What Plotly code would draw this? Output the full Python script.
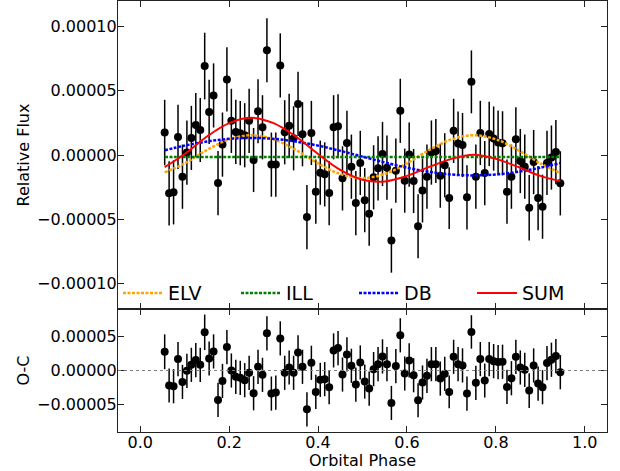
import plotly.graph_objects as go
from plotly.subplots import make_subplots

SCALE = 1e-5  # values below are in units of 1e-5

phase = [0.055, 0.065, 0.075, 0.085, 0.095, 0.105, 0.115, 0.125, 0.135, 0.145,
         0.155, 0.165, 0.175, 0.185, 0.195, 0.205, 0.215, 0.225, 0.235, 0.245,
         0.255, 0.265, 0.275, 0.285, 0.295, 0.305, 0.315, 0.325, 0.335, 0.345,
         0.355, 0.365, 0.375, 0.385, 0.395, 0.405, 0.415, 0.425, 0.435, 0.445,
         0.455, 0.465, 0.475, 0.485, 0.495, 0.505, 0.515, 0.525, 0.535, 0.545,
         0.555, 0.565, 0.575, 0.585, 0.595, 0.605, 0.615, 0.625, 0.635, 0.645,
         0.655, 0.665, 0.675, 0.685, 0.695, 0.705, 0.715, 0.725, 0.735, 0.745,
         0.755, 0.765, 0.775, 0.785, 0.795, 0.805, 0.815, 0.825, 0.835, 0.845,
         0.855, 0.865, 0.875, 0.885, 0.895, 0.905, 0.915, 0.925, 0.935, 0.945]

flux = [1.75, -2.99, -2.91, 1.41, -1.69, 0.19, 1.33, 2.34, 1.95, 6.93,
        3.36, 4.64, -2.19, 0.81, 5.89, 2.66, 1.80, 1.70, 1.54, 2.66,
        -0.39, 3.41, 2.16, 8.16, -0.75, -0.75, 6.98, 1.77, 2.27, 1.30,
        3.98, 1.62, -4.84, 1.72, -2.86, -1.38, -1.51, -2.97, 2.16, 2.24,
        -1.82, 0.94, -0.91, -3.75, -0.62, -3.52, -4.58, -1.74, -1.04, 0.08,
        -0.99, -6.67, -1.22, 3.44, -2.00, 0.03, -2.03, -5.55, -2.76, -1.69,
        0.19, 0.31, -1.61, -0.80, -3.36, 1.88, 0.89, 0.78, -3.30, 5.70,
        -1.69, 1.72, -1.41, 1.64, 1.28, 0.97, 0.91, -2.86, -1.69, 1.23,
        -0.47, -0.91, -4.11, -0.55, -3.36, -4.03, -0.62, -0.20, 0.23, -2.21]

resid = [2.74, -2.20, -2.30, 1.67, -1.67, -0.05, 0.83, 1.52, 0.83, 5.59,
         1.76, 2.79, -4.31, -1.52, 3.43, 0.00, -0.93, -1.08, -1.42, -0.34,
         -3.33, 0.54, -0.64, 5.44, -3.38, -3.23, 4.70, -0.34, 0.44, -0.34,
         2.65, 0.54, -5.68, 1.13, -3.13, -1.37, -1.27, -2.45, 2.94, 3.28,
         -0.59, 2.35, 0.69, -2.06, 1.18, -1.62, -2.65, 0.20, 0.93, 2.06,
         0.93, -4.75, 0.64, 5.15, -0.44, 1.47, -0.69, -4.36, -1.76, -0.78,
         0.93, 0.93, -1.18, -0.49, -3.13, 2.00, 0.93, 0.74, -3.38, 5.64,
         -1.81, 1.67, -1.47, 1.67, 1.37, 1.23, 1.28, -2.40, -1.13, 2.00,
         0.44, 0.10, -2.94, 0.74, -1.91, -2.45, 1.08, 1.57, 2.11, -0.25]

err = [2.55, 2.5, 2.5, 2.5, 2.5, 2.5, 2.5, 2.5, 2.5, 2.6,
       2.5, 2.5, 2.5, 2.5, 2.5, 2.5, 2.5, 2.5, 2.5, 2.5,
       2.5, 2.5, 2.5, 2.5, 2.5, 2.5, 2.5, 2.5, 2.5, 2.5,
       2.5, 2.5, 2.5, 2.5, 2.5, 2.5, 2.5, 2.5, 2.5, 2.5,
       2.5, 2.5, 2.5, 2.5, 2.5, 2.5, 2.5, 2.5, 2.5, 2.5,
       2.5, 2.5, 2.5, 2.5, 2.5, 2.5, 2.5, 2.5, 2.5, 2.5,
       2.5, 2.5, 2.5, 2.5, 2.4, 2.5, 2.5, 2.5, 2.5, 2.45,
       2.5, 2.5, 2.5, 2.5, 2.5, 2.5, 2.5, 2.5, 2.5, 2.5,
       2.5, 2.5, 2.55, 2.5, 2.5, 2.5, 2.5, 2.5, 2.5, 2.5]

model_phase = [0.055, 0.1, 0.15, 0.2, 0.25, 0.3, 0.35, 0.4, 0.45, 0.5,
               0.55, 0.6, 0.65, 0.7, 0.75, 0.8, 0.85, 0.9, 0.945]
elv = [-1.35, -0.65, 0.39, 1.22, 1.54, 1.22, 0.39, -0.65, -1.48, -1.80,
       -1.48, -0.65, 0.39, 1.22, 1.54, 1.22, 0.39, -0.65, -1.40]
ill = [-0.15] * 19
db = [0.37, 0.73, 1.05, 1.26, 1.33, 1.26, 1.05, 0.73, 0.32, -0.13,
      -0.58, -0.99, -1.31, -1.52, -1.59, -1.52, -1.31, -0.99, -0.63]
sumc = [-0.95, 0.08, 1.44, 2.48, 2.90, 2.48, 1.44, 0.08, -1.16, -1.93,
        -2.06, -1.63, -0.93, -0.30, 0.02, -0.30, -0.93, -1.63, -2.04]


def sc(v):
    return [a * SCALE for a in v]


fig = make_subplots(rows=2, cols=1, shared_xaxes=True, vertical_spacing=0,
                    row_heights=[0.7146, 0.2854])

errstyle = dict(type="data", thickness=1.5, width=0, color="black")

fig.add_trace(go.Scatter(x=phase, y=sc(flux), mode="markers",
                         marker=dict(color="black", size=8),
                         error_y=dict(array=sc(err), **errstyle),
                         showlegend=False), row=1, col=1)

curves = [("ELV", elv, "#FFA500", "3px,1.5px", 2.5),
          ("ILL", ill, "#008000", "3px,1.5px", 2.5),
          ("DB", db, "#0000FF", "3px,1.5px", 2.5),
          ("SUM", sumc, "#FF0000", "solid", 2)]
for name, vals, col, dash, w in curves:
    fig.add_trace(go.Scatter(x=model_phase, y=sc(vals), mode="lines", name=name,
                             line=dict(color=col, dash=dash, width=w,
                                       shape="spline", smoothing=1.0)),
                  row=1, col=1)

fig.add_trace(go.Scatter(x=phase, y=sc(resid), mode="markers",
                         marker=dict(color="black", size=8),
                         error_y=dict(array=sc(err), **errstyle),
                         showlegend=False), row=2, col=1)

fig.add_hline(y=0, line=dict(color="gray", width=1, dash="dot"), row=2, col=1)

font = dict(family="DejaVu Sans", size=16, color="black")
axis_common = dict(showgrid=False, zeroline=False, showline=True, mirror="ticks",
                   linecolor="#222", linewidth=1.2, ticks="inside", ticklen=6,
                   tickwidth=1, tickcolor="#222", tickfont=font, automargin=False)

tickx = [0.0, 0.2, 0.4, 0.6, 0.8, 1.0]
fig.update_xaxes(range=[-0.05, 1.05], tickvals=tickx, tickformat=".1f", **axis_common)
fig.update_xaxes(showticklabels=False, row=1, col=1)
fig.update_xaxes(ticklabelstandoff=-4, row=2, col=1)

fig.update_yaxes(range=[-0.00012, 0.00012],
                 tickvals=[-0.0001, -0.00005, 0, 0.00005, 0.0001],
                 tickformat=".5f", title=dict(text="Relative Flux", font=font, standoff=3),
                 ticklabelstandoff=-3,
                 row=1, col=1, **axis_common)
fig.update_yaxes(range=[-0.00009, 0.00009],
                 tickvals=[-0.00005, 0, 0.00005],
                 tickformat=".5f", title=dict(text="O-C", font=font, standoff=3),
                 ticklabelstandoff=-3,
                 row=2, col=1, **axis_common)

fig.add_annotation(text="Orbital Phase", xref="x2 domain", yref="paper",
                   x=0.5, y=-0.0905, xanchor="center", yanchor="bottom",
                   borderpad=0, showarrow=False, font=font)

fig.update_layout(
    width=620, height=471,
    margin=dict(l=118, r=13, t=1, b=39),
    paper_bgcolor="white", plot_bgcolor="white",
    font=font,
    legend=dict(orientation="h", x=0, xanchor="left", y=0.322, yanchor="middle",
                font=dict(family="DejaVu Sans", size=19, color="black"),
                bgcolor="rgba(0,0,0,0)", entrywidth=63, itemwidth=40,
                traceorder="normal"),
)

fig.write_html("out.html", config={"displayModeBar": False},
               post_script="document.body.style.margin='0px';")
